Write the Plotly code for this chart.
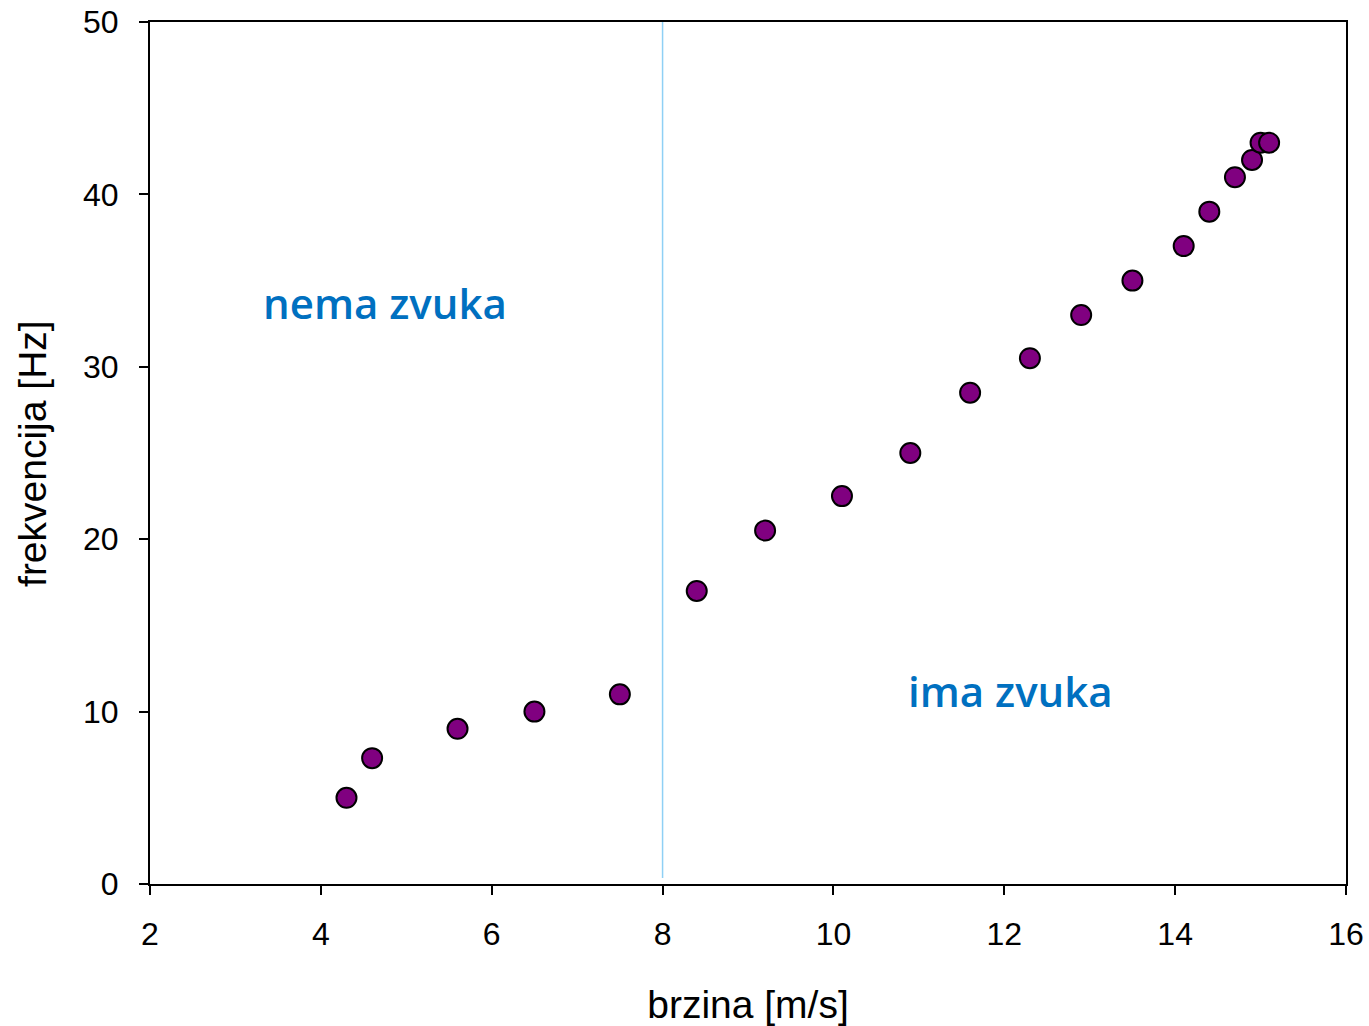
import plotly.graph_objects as go

brzina = [4.3, 4.6, 5.6, 6.5, 7.5, 8.4, 9.2, 10.1, 10.9, 11.6, 12.3, 12.9, 13.5, 14.1, 14.4, 14.7, 14.9, 15.0, 15.1]
frekvencija = [5, 7.3, 9, 10, 11, 17, 20.5, 22.5, 25, 28.5, 30.5, 33, 35, 37, 39, 41, 42, 43, 43]
granica = 8
x_ticks = [2, 4, 6, 8, 10, 12, 14, 16]
y_ticks = [0, 10, 20, 30, 40, 50]

fig = go.Figure()
fig.add_trace(go.Scatter(
    x=brzina, y=frekvencija, mode="markers",
    marker=dict(size=20, color="#800080", line=dict(color="black", width=2)),
    showlegend=False, cliponaxis=False))

fig.add_shape(type="line", x0=granica, x1=granica, y0=0.35, y1=50,
              line=dict(color="#8FD0F5", width=1.5), layer="below")

fig.add_annotation(x=4.75, y=33.75, text="nema zvuka", showarrow=False,
                   font=dict(family="Open Sans", size=42, color="#0070C0", weight=600))
fig.add_annotation(x=12.07, y=11.2, text="ima zvuka", showarrow=False,
                   font=dict(family="Open Sans", size=42, color="#0070C0", weight=600))

# y-axis title
fig.add_annotation(xref="paper", yref="paper", x=-0.0987, y=0.5, xanchor="center", yanchor="middle",
                   text="frekvencija [Hz]", textangle=-90, showarrow=False,
                   font=dict(family="Liberation Sans, Arial", size=39, color="black"))

axis_common = dict(showline=True, linecolor="black", linewidth=2, mirror=True,
                   ticks="outside", ticklen=9, tickwidth=2, tickcolor="black",
                   showgrid=False, zeroline=False, automargin=False,
                   tickfont=dict(family="Liberation Sans, Arial", size=32, color="black"))

fig.update_xaxes(range=[2, 16], tickvals=x_ticks, ticklabelstandoff=12,
                 title=dict(text="brzina [m/s]", font=dict(family="Liberation Sans, Arial", size=39, color="black"), standoff=40),
                 **axis_common)
fig.update_yaxes(range=[0, 50], tickvals=y_ticks, ticklabelstandoff=14,
                 **axis_common)

fig.update_layout(width=1369, height=1026, margin=dict(l=150, r=23, t=22, b=142),
                  plot_bgcolor="white", paper_bgcolor="white")

fig.write_html("out.html")
